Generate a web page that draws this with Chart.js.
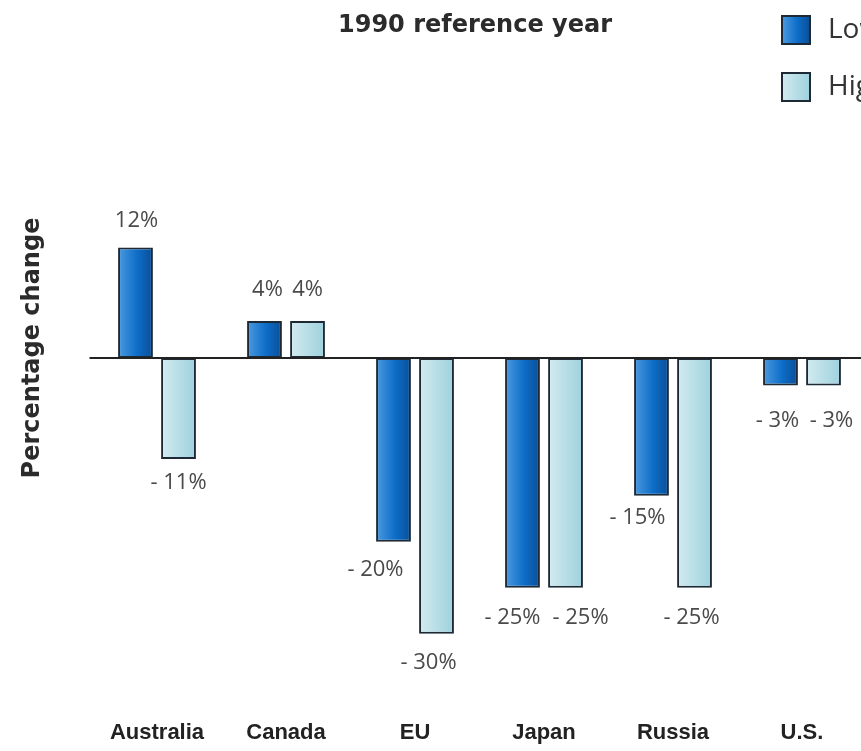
<!DOCTYPE html>
<html>
<head>
<meta charset="utf-8">
<title>1990 reference year</title>
<script src="https://cdn.jsdelivr.net/npm/chart.js@4.4.0/dist/chart.umd.min.js"></script>
<style>
  html, body { margin: 0; padding: 0; background: #fff; overflow: hidden; }
  #chart { display: block; }
</style>
</head>
<body>
<canvas id="chart" width="900" height="751"></canvas>
<script>
// Emission change targets by country, percent vs. 1990
const countries = ["Australia", "Canada", "EU", "Japan", "Russia", "U.S."];
const lowValues = [12, 4, -20, -25, -15, -3];
const highValues = [-11, 4, -30, -25, -25, -3];
const seriesNames = ["Low", "High"];

// Small nudges for the value labels (px): horizontal shift and distance from bar end
const labelShiftX = [[1, 3, -18, -10, -14, -3], [0, 0, -8, 15, -3, 8]];
const labelGap = [[27, 31, 28, 30, 22, 35], [24, 31, 29, 30, 30, 35]];

const gradStops = [
    [[0, "#4c9adf"], [0.55, "#0d6dc8"], [1, "#0a4e95"]],
    [[0, "#d3ebf0"], [1, "#9dd1dd"]]
];
const edgeColor = "#1d2a36";

function makeGradient(ctx, x0, x1, stops) {
    const g = ctx.createLinearGradient(x0, 0, x1, 0);
    stops.forEach(s => g.addColorStop(s[0], s[1]));
    return g;
}

// Horizontal gradient fill for every bar
const barGradients = {
    id: "barGradients",
    beforeDatasetsDraw(chart) {
        const ctx = chart.ctx;
        chart.data.datasets.forEach((ds, i) => {
            chart.getDatasetMeta(i).data.forEach(bar => {
                const g = makeGradient(ctx, bar.x - bar.width / 2, bar.x + bar.width / 2, gradStops[i]);
                bar.options = Object.assign({}, bar.options, { backgroundColor: g });
            });
        });
    }
};

// Zero line, value labels, title, y title and legend
const decorations = {
    id: "decorations",
    afterDatasetsDraw(chart) {
        const ctx = chart.ctx;
        const y0 = chart.scales.y.getPixelForValue(0);

        ctx.save();
        ctx.strokeStyle = "#222";
        ctx.lineWidth = 2;
        ctx.beginPath();
        ctx.moveTo(chart.chartArea.left - 3, y0);
        ctx.lineTo(chart.width, y0);
        ctx.stroke();

        ctx.font = "22px 'Open Sans', sans-serif";
        ctx.fillStyle = "#4a4a4a";
        ctx.textAlign = "center";
        ctx.textBaseline = "middle";
        chart.data.datasets.forEach((ds, i) => {
            chart.getDatasetMeta(i).data.forEach((bar, j) => {
                const v = ds.data[j];
                const txt = v < 0 ? "- " + Math.abs(v) + "%" : v + "%";
                const gap = labelGap[i][j];
                const y = v < 0 ? bar.y + gap : bar.y - gap;
                ctx.fillText(txt, bar.x + labelShiftX[i][j], y);
            });
        });
        ctx.restore();
    },
    afterDraw(chart) {
        const ctx = chart.ctx;
        ctx.save();
        ctx.fillStyle = "#2b2b2b";
        ctx.textBaseline = "middle";

        ctx.font = "bold 24px 'DejaVu Sans', sans-serif";
        ctx.textAlign = "center";
        ctx.fillText("1990 reference year", 475, 26);

        ctx.save();
        ctx.translate(33, 348);
        ctx.rotate(-Math.PI / 2);
        ctx.fillText("Percentage change", 0, 0);
        ctx.restore();

        // legend
        ctx.font = "28px 'Open Sans', sans-serif";
        ctx.textAlign = "left";
        const rows = [16, 73];
        chart.data.datasets.forEach((ds, i) => {
            const bx = 782, by = rows[i], size = 28;
            ctx.fillStyle = makeGradient(ctx, bx, bx + size, gradStops[i]);
            ctx.fillRect(bx, by, size, size);
            ctx.strokeStyle = edgeColor;
            ctx.lineWidth = 2;
            ctx.strokeRect(bx, by, size, size);
            ctx.fillStyle = "#333";
            ctx.fillText(ds.label, 828, by + size / 2);
        });
        ctx.restore();
    }
};

const ctx = document.getElementById("chart").getContext("2d");
const chart = new Chart(ctx, {
    type: "bar",
    data: {
        labels: countries,
        datasets: [
            {
                label: seriesNames[0],
                data: lowValues,
                backgroundColor: "#0d6dc8",
                borderColor: edgeColor,
                borderWidth: 2,
                borderSkipped: false
            },
            {
                label: seriesNames[1],
                data: highValues,
                backgroundColor: "#b6dfe7",
                borderColor: edgeColor,
                borderWidth: 2,
                borderSkipped: false
            }
        ]
    },
    options: {
        responsive: false,
        animation: false,
        devicePixelRatio: 1,
        categoryPercentage: 0.667,
        barPercentage: 0.81,
        layout: {
            // the x tick padding is counted twice in the axis height, so pull the bottom back
            padding: { left: 92.5, right: 33.5, top: 220, bottom: -35 }
        },
        plugins: {
            legend: { display: false },
            tooltip: { enabled: false }
        },
        scales: {
            x: {
                grid: { display: false, drawTicks: false, tickLength: 0 },
                border: { display: false },
                ticks: {
                    padding: 40,
                    color: "#222",
                    font: { family: "'Liberation Sans', Arial, sans-serif", size: 22, weight: "bold" }
                }
            },
            y: {
                display: false,
                min: -35,
                max: 15
            }
        }
    },
    plugins: [barGradients, decorations]
});
</script>
</body>
</html>
